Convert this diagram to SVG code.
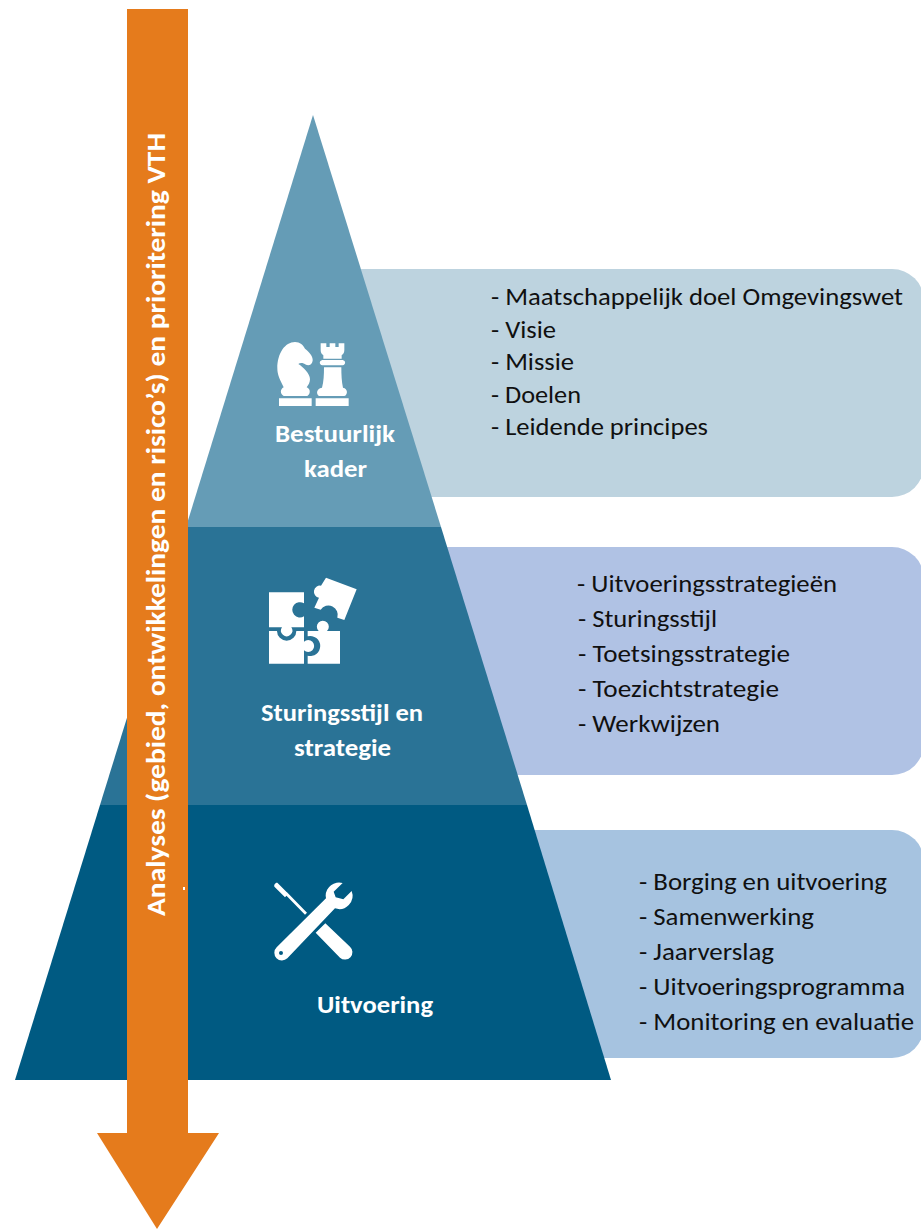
<svg xmlns="http://www.w3.org/2000/svg" width="921" height="1230" viewBox="0 0 921 1230">
<style>
.item{font-family:Carlito,Lato,"Open Sans",sans-serif;font-size:25.5px;fill:#101010}
.lab{font-family:Carlito,Lato,"Open Sans",sans-serif;font-size:25px;font-weight:700;fill:#fff}
.ic{fill:#fff}
</style>
<rect width="921" height="1230" fill="#fff"/>
<g id="panel-1"><rect x="300" y="269" width="624" height="228" rx="32" fill="#bdd3df"/>
<text class="item" x="491" y="305" textLength="412" lengthAdjust="spacingAndGlyphs">- Maatschappelijk doel Omgevingswet</text>
<text class="item" x="491" y="338" textLength="65" lengthAdjust="spacingAndGlyphs">- Visie</text>
<text class="item" x="491" y="370" textLength="83" lengthAdjust="spacingAndGlyphs">- Missie</text>
<text class="item" x="491" y="403" textLength="90" lengthAdjust="spacingAndGlyphs">- Doelen</text>
<text class="item" x="491" y="435" textLength="217" lengthAdjust="spacingAndGlyphs">- Leidende principes</text></g>
<g id="panel-2"><rect x="300" y="547" width="624" height="228" rx="32" fill="#b0c2e4"/>
<text class="item" x="577" y="592" textLength="260" lengthAdjust="spacingAndGlyphs">- Uitvoeringsstrategieën</text>
<text class="item" x="578" y="627" textLength="139" lengthAdjust="spacingAndGlyphs">- Sturingsstijl</text>
<text class="item" x="578" y="662" textLength="212" lengthAdjust="spacingAndGlyphs">- Toetsingsstrategie</text>
<text class="item" x="578" y="697" textLength="201" lengthAdjust="spacingAndGlyphs">- Toezichtstrategie</text>
<text class="item" x="578" y="732" textLength="142" lengthAdjust="spacingAndGlyphs">- Werkwijzen</text></g>
<g id="panel-3"><rect x="400" y="830" width="524" height="228" rx="32" fill="#a6c3e0"/>
<text class="item" x="639" y="890" textLength="248" lengthAdjust="spacingAndGlyphs">- Borging en uitvoering</text>
<text class="item" x="639" y="925" textLength="175" lengthAdjust="spacingAndGlyphs">- Samenwerking</text>
<text class="item" x="639" y="960" textLength="135" lengthAdjust="spacingAndGlyphs">- Jaarverslag</text>
<text class="item" x="639" y="995" textLength="266" lengthAdjust="spacingAndGlyphs">- Uitvoeringsprogramma</text>
<text class="item" x="639" y="1030" textLength="275" lengthAdjust="spacingAndGlyphs">- Monitoring en evaluatie</text></g>
<g id="tier-1"><polygon points="313,115 441,527 186,527" fill="#659cb6"/>
<g class="ic" transform="translate(250 320) scale(.33333)">
<path d="M87 235H185V258H87ZM135 66C150 66 160 76 165 86C178 96 190 110 188 122C186 134 176 138 168 134C160 128 150 127 145 132C160 142 180 160 180 178C180 188 175 196 170 202C182 206 182 222 172 228H101C90 222 90 208 101 202C90 180 82 165 82 145C82 100 105 66 135 66Z"/>
<path d="M197 235H296V258H197ZM212 70H229V81H239V70H256V81H266V70H283V90C283 98 280 102 275 106V116H220V106C215 102 212 98 212 90ZM217 120H278C288 122 288 134 278 136H217C207 134 207 122 217 120ZM222 142H274C274 165 275 185 279 203C294 206 294 224 283 228H208C198 224 198 206 216 203C221 185 222 165 222 142Z"/>
</g>
<text class="lab" x="275" y="442" textLength="120" lengthAdjust="spacingAndGlyphs">Bestuurlijk</text>
<text class="lab" x="304" y="477" textLength="63" lengthAdjust="spacingAndGlyphs">kader</text></g>
<g id="tier-2"><polygon points="186,527 441,527 527,805 100,805" fill="#2a7396"/>
<g class="ic" transform="translate(250 565) scale(.33333)">
<path d="M57 82H162V115A23 23 0 1 0 162 154V187H124A17 17 0 1 1 96 187H57Z"/>
<path d="M57 198H81A29 29 0 1 0 139 198H162V230A18 18 0 1 1 162 256V296H57Z"/>
<path d="M173 198H206A18 18 0 1 1 231 198H270V296H173V272A30 30 0 1 0 173 214Z"/>
<path d="M228 38L320 73L283 165L262 158A28 28 0 0 0 212 134L193 128L207 98A18 18 0 1 1 213 62Z"/>
</g>
<text class="lab" x="261" y="721" textLength="162" lengthAdjust="spacingAndGlyphs">Sturingsstijl en</text>
<text class="lab" x="294" y="756" textLength="97" lengthAdjust="spacingAndGlyphs">strategie</text></g>
<g id="tier-3"><polygon points="100,805 527,805 611,1080 15,1080" fill="#005a82"/>
<g class="ic" transform="translate(170 865) scale(.33333)">
<path fill-rule="evenodd" d="M518 54A40 40 0 0 0 467 92L468 100L320 247A22 22 0 0 0 352 280L495 130A40 40 0 0 0 545 78L520 103L497 97L491 80ZM333 258A6 6 0 1 0 333 270A6 6 0 1 0 333 258Z"/>
<path d="M437 203L466 175L540 245A20 20 0 0 1 510 278Z"/>
<path d="M322 53L355 86L345 97L314 66C310 60 316 52 322 53ZM345 88L351 82L411 143L405 149Z"/>
</g>
<text class="lab" x="317" y="1013" textLength="116" lengthAdjust="spacingAndGlyphs">Uitvoering</text></g>
<g id="arrow"><path d="M127 9H188V1133H219L157 1229L97 1133H127Z" fill="#e57b1c"/>
<rect x="183" y="887" width="2" height="3" fill="#fff"/>
<text transform="translate(165 916) rotate(-90)" font-family="Carlito,Lato,'Open Sans',sans-serif" font-size="26" font-weight="700" fill="#fff" textLength="783" lengthAdjust="spacingAndGlyphs">Analyses (gebied, ontwikkelingen en risico’s) en prioritering VTH</text></g>
</svg>
